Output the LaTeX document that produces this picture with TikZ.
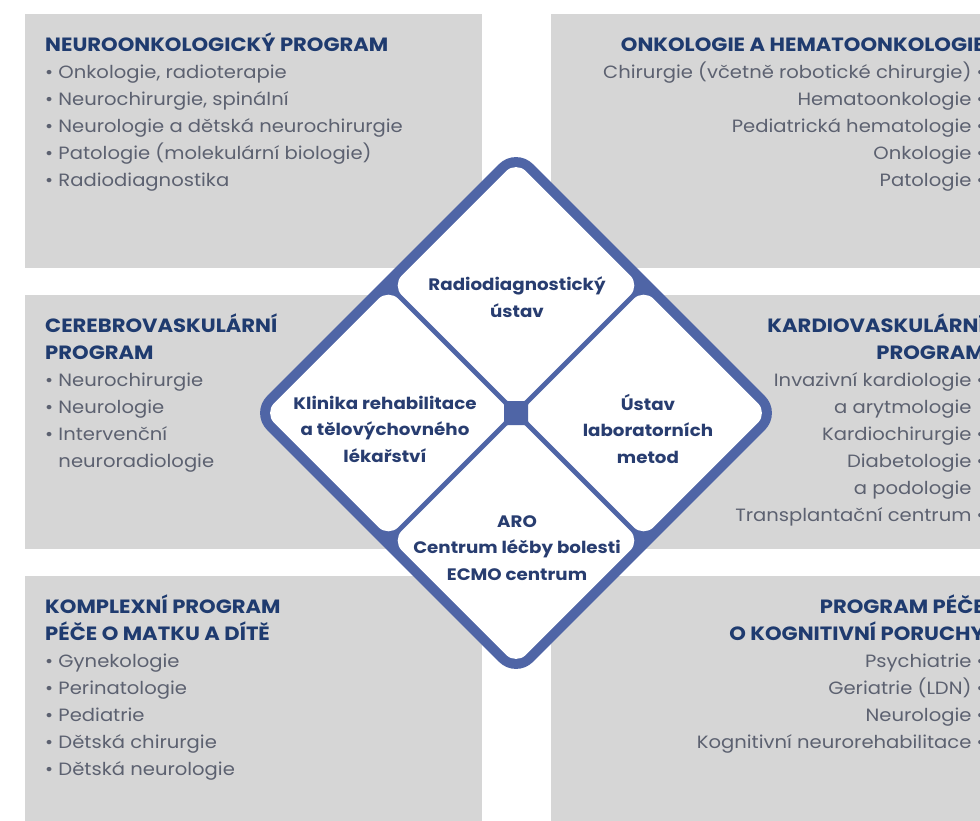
\documentclass[tikz,border=0pt]{standalone}
\usepackage{fontspec}
\setmainfont{Poppins}[FakeStretch=1.1]
\definecolor{boxgray}{HTML}{D6D6D6}
\definecolor{dblue}{HTML}{4F65A6}
\definecolor{headblue}{HTML}{1F3B6F}
\definecolor{itemgray}{HTML}{5C6170}
\definecolor{ctext}{HTML}{283D70}
\tikzset{
  panel/.style={fill=boxgray, draw=none, minimum width=457pt, minimum height=254pt, inner sep=0pt},
  listL/.style={align=left, anchor=base west, inner sep=0pt, text=itemgray, font=\fontsize{17.8}{27}\selectfont},
  listR/.style={align=right, anchor=base east, inner sep=0pt, text=itemgray, font=\fontsize{17.8}{27}\selectfont},
  ctr/.style={align=center, anchor=base, inner sep=0pt, text=ctext, font=\fontsize{16.6}{26.5}\selectfont\bfseries},
}
\newcommand{\hd}[1]{\textcolor{headblue}{\fontsize{19.2}{27}\selectfont\bfseries #1}}
\begin{document}
\begin{tikzpicture}[x=1pt,y=-1pt]
\useasboundingbox (0,0) rectangle (980,821);
\clip (0,0) rectangle (980,821);
\fill[white] (0,0) rectangle (980,821);
% panels
\node[panel] (p1) at (253.5,141) {};
\node[panel] (p2) at (779.5,141) {};
\node[panel] (p3) at (253.5,421.5) {};
\node[panel] (p4) at (779.5,421.5) {};
\node[panel] (p5) at (253.5,703) {};
\node[panel] (p6) at (779.5,703) {};
% left texts (anchored at the baseline of the last line)
\node[listL] (t1) at (45,187) {\hd{NEUROONKOLOGICKÝ PROGRAM}\\
• Onkologie, radioterapie\\
• Neurochirurgie, spinální\\
• Neurologie a dětská neurochirurgie\\
• Patologie (molekulární biologie)\\
• Radiodiagnostika};
\node[listL] (t3) at (45,467) {\hd{CEREBROVASKULÁRNÍ}\\
\hd{PROGRAM}\\
• Neurochirurgie\\
• Neurologie\\
• Intervenční\\
\hphantom{• }neuroradiologie};
\node[listL] (t5) at (45,775) {\hd{KOMPLEXNÍ PROGRAM}\\
\hd{PÉČE O MATKU A DÍTĚ}\\
• Gynekologie\\
• Perinatologie\\
• Pediatrie\\
• Dětská chirurgie\\
• Dětská neurologie};
% right texts (run slightly past the right edge, as in the reference)
\node[listR] (t2) at (985,187) {\hd{ONKOLOGIE A HEMATOONKOLOGIE}\\
Chirurgie (včetně robotické chirurgie) •\\
Hematoonkologie •\\
Pediatrická hematologie •\\
Onkologie •\\
Patologie •};
\node[listR] (t4) at (985,521) {\hd{KARDIOVASKULÁRNÍ}\\
\hd{PROGRAM}\\
Invazivní kardiologie •\\
a arytmologie\hphantom{ •}\\
Kardiochirurgie •\\
Diabetologie •\\
a podologie\hphantom{ •}\\
Transplantační centrum •};
\node[listR] (t6) at (985,748) {\hd{PROGRAM PÉČE}\\
\hd{O KOGNITIVNÍ PORUCHY}\\
Psychiatrie •\\
Geriatrie (LDN) •\\
Neurologie •\\
Kognitivní neurorehabilitace •};
% diamond
\begin{scope}[shift={(516,413)}, rotate=45]
\fill[dblue, rounded corners=24pt] (-188,-188) rectangle (188,188);
\fill[white, rounded corners=14pt] (2.5,2.5) rectangle (178,178);
\fill[white, rounded corners=14pt] (-2.5,2.5) rectangle (-178,178);
\fill[white, rounded corners=14pt] (2.5,-2.5) rectangle (178,-178);
\fill[white, rounded corners=14pt] (-2.5,-2.5) rectangle (-178,-178);
\end{scope}
\fill[dblue, rounded corners=3pt] (504,401) rectangle (528,425);
% centre texts (anchored at the baseline of the last line)
\node[ctr] (d1) at (517,317) {Radiodiagnostický\\ústav};
\node[ctr] (d2) at (385,462) {Klinika rehabilitace\\a tělovýchovného\\lékařství};
\node[ctr] (d3) at (648,463) {Ústav\\laboratorních\\metod};
\node[ctr] (d4) at (517,580) {ARO\\Centrum léčby bolesti\\ECMO centrum};
\end{tikzpicture}
\end{document}
